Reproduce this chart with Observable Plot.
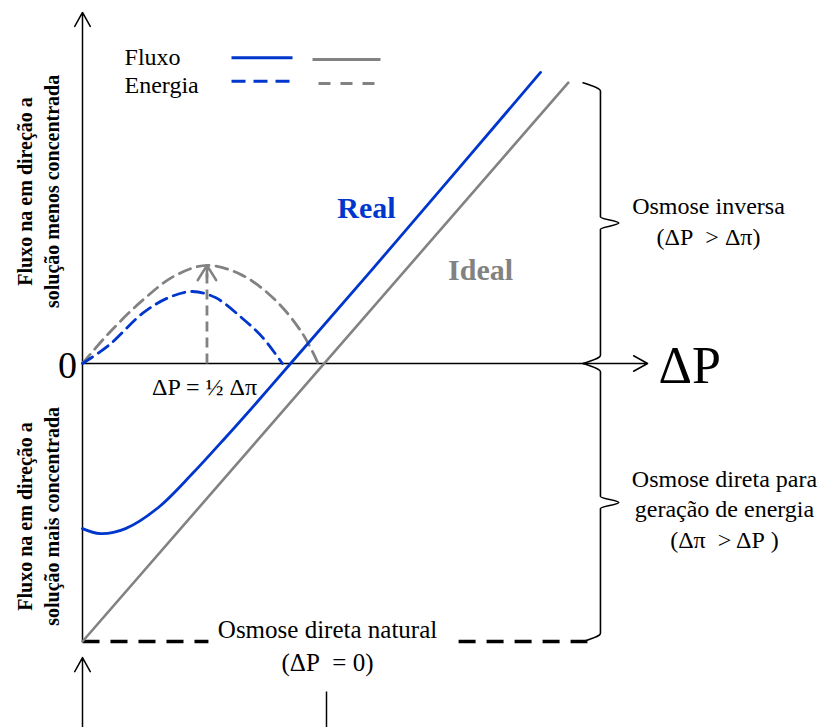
<!DOCTYPE html>
<html>
<head>
<meta charset="utf-8">
<script src="https://cdn.jsdelivr.net/npm/d3@7"></script>
<script src="https://cdn.jsdelivr.net/npm/@observablehq/plot@0.6"></script>
<style>
  html, body { margin: 0; padding: 0; background: #ffffff; }
  svg { display: block; }
  svg text { font-family: 'Liberation Serif', 'Times New Roman', serif; }
</style>
</head>
<body>
<script>
// Units: x = ΔP / Δπ ; y = flux (ideal flux at ΔP = 0 is -1)
const BLUE = "#0036cc";
const GRAY = "#828282";
const SERIF = "'Liberation Serif', 'Times New Roman', serif";

// Flux curves [ΔP, flux]
const idealFlux = [[0, -1], [2.01, 1.01]];
const realFlux = [
  [0, -0.594], [0.074, -0.612], [0.178, -0.594], [0.314, -0.518],
  [0.455, -0.396], [0.592, -0.266], [0.728, -0.133], [0.861, 0],
  [1.316, 0.457], [1.895, 1.047]
];
// Energy curves [ΔP, energy]
const idealEnergy = [
  [0, 0], [0.108, 0.108], [0.248, 0.227], [0.385, 0.317], [0.517, 0.353],
  [0.662, 0.317], [0.799, 0.227], [0.910, 0.108], [0.975, 0]
];
const realEnergy = [
  [0, 0], [0.108, 0.065], [0.248, 0.180], [0.356, 0.237], [0.455, 0.259],
  [0.550, 0.237], [0.662, 0.162], [0.745, 0.094], [0.827, 0]
];
// Max energy marker at ΔP = ½ Δπ
const maxEnergy = [{x: 0.515, y1: 0, y2: 0.353}];

// Axes (arrows)
const axisArrows = [
  {x1: 0, y1: -1, x2: 0, y2: 1.263},      // flux axis (up)
  {x1: 0, y1: 0, x2: 2.338, y2: 0},       // ΔP axis
  {x1: 0, y1: -1.309, x2: 0, y2: -1.058}  // bottom pointer
];
const bottomTick = [{x: 1.0095, y1: -1.18, y2: -1.309}];
// Natural forward osmosis line (ΔP = 0), split around its label
const naturalSegments = [{x1: 0, x2: 0.521}, {x1: 1.556, x2: 2.089}];

// Region braces [from, to]
const braceX = 2.143;
const regions = [
  {y1: 0, y2: 1.01},
  {y1: -1, y2: 0}
];
function bracePoints(r) {
  const d = 0.072, e = 0.03, t = 0.076, h = 0.022;
  const ym = (r.y1 + r.y2) / 2;
  return [
    [braceX - d, r.y1], [braceX, r.y1 + e], [braceX, ym - h],
    [braceX + t, ym], [braceX, ym + h], [braceX, r.y2 - e], [braceX - d, r.y2]
  ];
}

// Legend
const legendLabels = [
  {x: 0.174, y: 1.101, text: "Fluxo"},
  {x: 0.174, y: 1.0, text: "Energia"}
];
const legendSolidBlue = [{x1: 0.6165, x2: 0.869, y: 1.0996}];
const legendSolidGray = [{x1: 0.9516, x2: 1.233, y: 1.0935}];
const legendDashBlue = [{x1: 0.6165, x2: 0.8606, y: 1.0155}];
const legendDashGray = [{x1: 0.9764, x2: 1.2247, y: 1.0072}];

// Text labels
const regionLabels = [
  {x: 2.590, y: 0.518, text: "Osmose inversa\n(ΔP\u00a0 > Δπ)"},
  {x: 2.656, y: -0.518, text: "Osmose direta para\ngeração de energia\n(Δπ\u00a0 > ΔP\u00a0)"}
];
const naturalLabel = [{x: 1.0137, y: -1.009, text: "Osmose direta natural\n(ΔP\u00a0 = 0)"}];
const halfLabel = [{x: 0.505, y: -0.086, text: "ΔP = ½ Δπ"}];
const zeroLabel = [{x: -0.062, y: -0.007, text: "0"}];
const axisLabel = [{x: 2.383, y: -0.011, text: "ΔP"}];
const seriesLabels = [
  {x: 1.175, y: 0.558, text: "Real", color: BLUE},
  {x: 1.647, y: 0.335, text: "Ideal", color: GRAY}
];
const yLabels = [
  {x: -0.19, y: 0.619, text: "Fluxo na em direção a\nsolução menos concentrada"},
  {x: -0.19, y: -0.550, text: "Fluxo na em direção a\nsolução mais concentrada"}
];

const chart = Plot.plot({
  width: 821,
  height: 727,
  margin: 0,
  x: {domain: [0, 1], range: [82, 323.7], axis: null},
  y: {domain: [0, -1], range: [363, 641], axis: null},
  style: {fontFamily: SERIF, background: "#ffffff", color: "black"},
  marks: [
    // axes
    Plot.arrow(axisArrows, {x1: "x1", y1: "y1", x2: "x2", y2: "y2", stroke: "black", strokeWidth: 1.5, headLength: 16, headAngle: 58}),
    Plot.link(bottomTick, {x1: "x", x2: "x", y1: "y1", y2: "y2", stroke: "black", strokeWidth: 1.5}),
    Plot.link(naturalSegments, {x1: "x1", x2: "x2", y1: () => -1, y2: () => -1, stroke: "black", strokeWidth: 3.5, strokeDasharray: "17,11"}),
    // braces
    ...regions.map(r => Plot.line(bracePoints(r), {curve: "monotone-y", stroke: "black", strokeWidth: 1.6})),
    // energy curves
    Plot.line(idealEnergy, {curve: "catmull-rom", stroke: GRAY, strokeWidth: 2.8, strokeDasharray: "12,7"}),
    Plot.line(realEnergy, {curve: "catmull-rom", stroke: BLUE, strokeWidth: 2.8, strokeDasharray: "12,7"}),
    Plot.link(maxEnergy, {x1: "x", x2: "x", y1: "y1", y2: "y2", stroke: GRAY, strokeWidth: 2.8, strokeDasharray: "10,6"}),
    Plot.arrow(maxEnergy, {x1: "x", x2: "x", y1: "y1", y2: "y2", stroke: GRAY, strokeWidth: 2.6, headLength: 10, headAngle: 64, insetStart: 86}),
    // flux curves
    Plot.line(idealFlux, {stroke: GRAY, strokeWidth: 2.6}),
    Plot.line(realFlux, {curve: "catmull-rom", stroke: BLUE, strokeWidth: 2.8}),
    // legend
    Plot.text(legendLabels, {x: "x", y: "y", text: "text", textAnchor: "start", lineAnchor: "middle", fontSize: 24, fontFamily: SERIF, fill: "black"}),
    Plot.link(legendSolidBlue, {x1: "x1", x2: "x2", y1: "y", y2: "y", stroke: BLUE, strokeWidth: 3}),
    Plot.link(legendSolidGray, {x1: "x1", x2: "x2", y1: "y", y2: "y", stroke: GRAY, strokeWidth: 3}),
    Plot.link(legendDashBlue, {x1: "x1", x2: "x2", y1: "y", y2: "y", stroke: BLUE, strokeWidth: 3, strokeDasharray: "14,8"}),
    Plot.link(legendDashGray, {x1: "x1", x2: "x2", y1: "y", y2: "y", stroke: GRAY, strokeWidth: 3, strokeDasharray: "12,10"}),
    // labels
    Plot.text(regionLabels, {x: "x", y: "y", text: "text", textAnchor: "middle", lineAnchor: "middle", fontSize: 24, lineHeight: 1.28, fontFamily: SERIF, fill: "black"}),
    Plot.text(naturalLabel, {x: "x", y: "y", text: "text", textAnchor: "middle", lineAnchor: "middle", fontSize: 25, lineHeight: 1.32, fontFamily: SERIF, fill: "black"}),
    Plot.text(halfLabel, {x: "x", y: "y", text: "text", textAnchor: "middle", lineAnchor: "middle", fontSize: 24, fontFamily: SERIF, fill: "black"}),
    Plot.text(zeroLabel, {x: "x", y: "y", text: "text", textAnchor: "middle", lineAnchor: "middle", fontSize: 38, fontFamily: SERIF, fill: "black"}),
    Plot.text(axisLabel, {x: "x", y: "y", text: "text", textAnchor: "start", lineAnchor: "middle", fontSize: 52, fontFamily: SERIF, fill: "black"}),
    Plot.text(seriesLabels, {x: "x", y: "y", text: "text", textAnchor: "middle", lineAnchor: "middle", fontSize: 30, fontWeight: "bold", fontFamily: SERIF, fill: d => d.color}),
    Plot.text(yLabels, {x: "x", y: "y", text: "text", textAnchor: "middle", lineAnchor: "middle", fontSize: 20, fontWeight: "bold", lineHeight: 1.35, rotate: -90, fontFamily: SERIF, fill: "black"})
  ]
});
document.body.appendChild(chart);
</script>
</body>
</html>
